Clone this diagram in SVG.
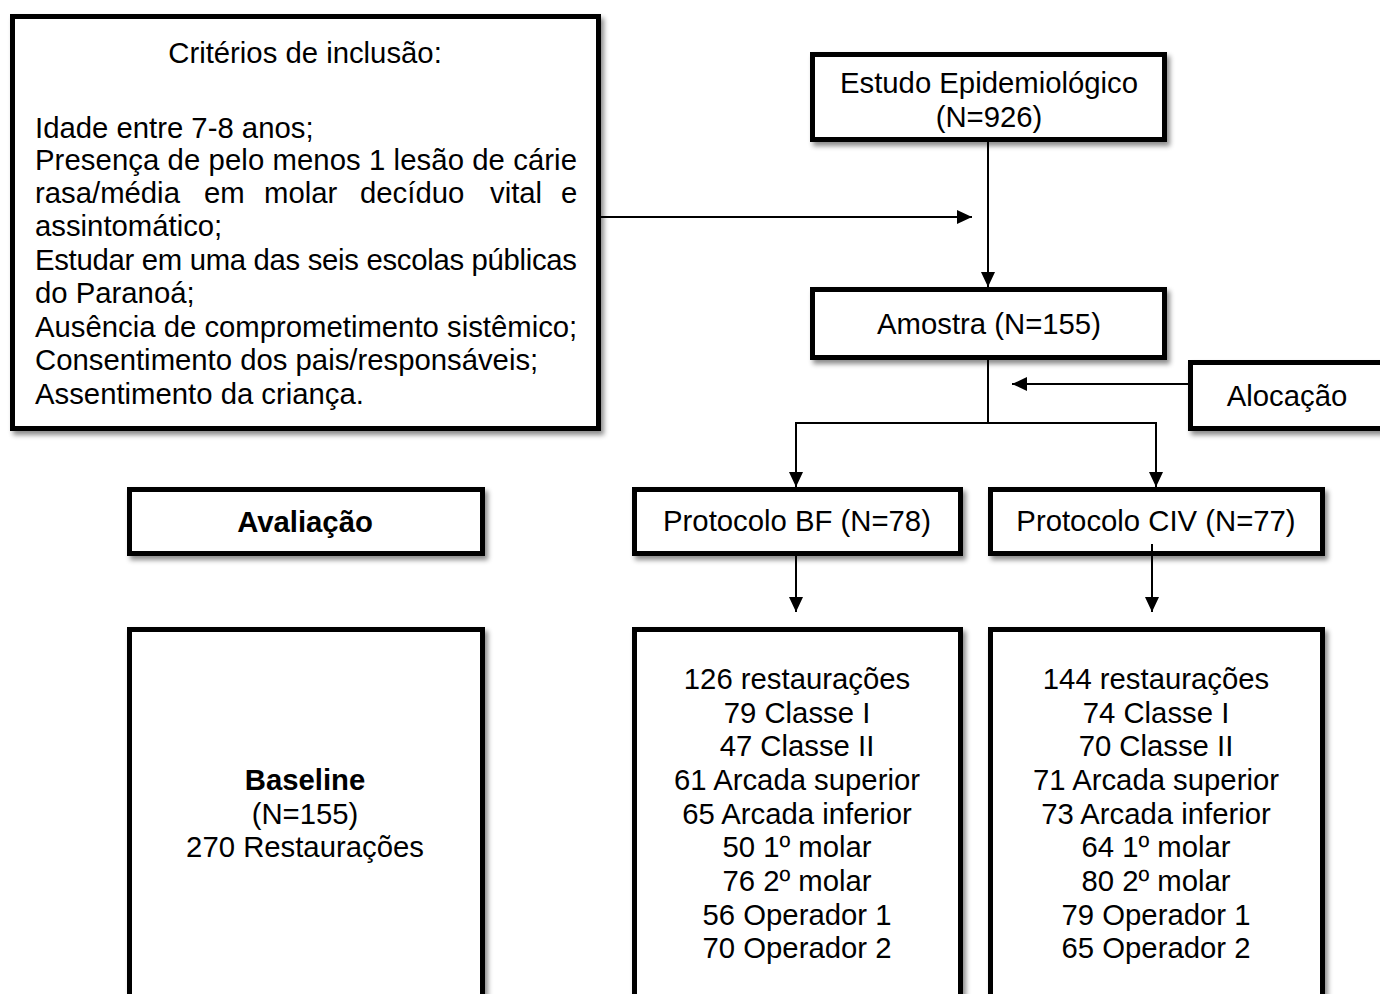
<svg xmlns="http://www.w3.org/2000/svg" width="1380" height="994" viewBox="0 0 1380 994">
<defs>
<filter id="sh" x="-10%" y="-10%" width="130%" height="130%">
<feDropShadow dx="3" dy="4" stdDeviation="2.5" flood-color="#000" flood-opacity="0.45"/>
</filter>
<marker id="ah" markerUnits="userSpaceOnUse" markerWidth="16" markerHeight="14" refX="15" refY="7" orient="auto">
<path d="M0,0 L15,7 L0,14 Z" fill="#000"/>
</marker>
<style>
.box{fill:#fff;stroke:#000;stroke-width:5;filter:url(#sh)}
.t{font-family:"Liberation Sans",Arial,sans-serif;font-size:29.3px;fill:#000}
.c{text-anchor:middle}
.b{font-weight:bold}
.ln{fill:none;stroke:#000;stroke-width:2}
</style>
</defs>
<rect width="1380" height="994" fill="#fff"/>
<g id="criterios">
<rect class="box" x="12.5" y="16.5" width="586" height="412"/>
<text class="t c" x="305" y="63">Critérios de inclusão:</text>
<text class="t" x="35" y="138">Idade entre 7-8 anos;</text>
<text class="t" x="35" y="170" textLength="542" lengthAdjust="spacing">Presença de pelo menos 1 lesão de cárie</text>
<text class="t" y="203"><tspan x="35">rasa/média</tspan><tspan x="204">em</tspan><tspan x="264">molar</tspan><tspan x="360">decíduo</tspan><tspan x="490">vital</tspan><tspan x="561">e</tspan></text>
<text class="t" x="35" y="236">assintomático;</text>
<text class="t" x="35" y="270" textLength="542" lengthAdjust="spacing">Estudar em uma das seis escolas públicas</text>
<text class="t" x="35" y="303">do Paranoá;</text>
<text class="t" x="35" y="337">Ausência de comprometimento sistêmico;</text>
<text class="t" x="35" y="370">Consentimento dos pais/responsáveis;</text>
<text class="t" x="35" y="404">Assentimento da criança.</text>
</g>
<g id="estudo">
<rect class="box" x="812.5" y="54.5" width="352" height="85"/>
<text class="t c" x="989" y="93">Estudo Epidemiológico</text>
<text class="t c" x="989" y="127">(N=926)</text>
</g>
<g id="amostra">
<rect class="box" x="812.5" y="289.5" width="352" height="68"/>
<text class="t c" x="989" y="334">Amostra (N=155)</text>
</g>
<g id="alocacao">
<rect class="box" x="1190.5" y="362.5" width="200" height="66"/>
<text class="t c" x="1287" y="406">Alocação</text>
</g>
<g id="avaliacao">
<rect class="box" x="129.5" y="489.5" width="353" height="64"/>
<text class="t c b" x="305" y="532">Avaliação</text>
</g>
<g id="protocolo-bf">
<rect class="box" x="634.5" y="489.5" width="326" height="64"/>
<text class="t c" x="797" y="531">Protocolo BF (N=78)</text>
</g>
<g id="protocolo-civ">
<rect class="box" x="990.5" y="489.5" width="332" height="64"/>
<text class="t c" x="1156" y="531">Protocolo CIV (N=77)</text>
</g>
<g id="baseline">
<rect class="box" x="129.5" y="629.5" width="353" height="400"/>
<text class="t c b" x="305" y="790">Baseline</text>
<text class="t c" x="305" y="824">(N=155)</text>
<text class="t c" x="305" y="857">270 Restaurações</text>
</g>
<g id="bf-detalhe">
<rect class="box" x="634.5" y="629.5" width="326" height="400"/>
<text class="t c" x="797" y="689">126 restaurações</text>
<text class="t c" x="797" y="723">79 Classe I</text>
<text class="t c" x="797" y="756">47 Classe II</text>
<text class="t c" x="797" y="790">61 Arcada superior</text>
<text class="t c" x="797" y="824">65 Arcada inferior</text>
<text class="t c" x="797" y="857">50 1º molar</text>
<text class="t c" x="797" y="891">76 2º molar</text>
<text class="t c" x="797" y="925">56 Operador 1</text>
<text class="t c" x="797" y="958">70 Operador 2</text>
</g>
<g id="civ-detalhe">
<rect class="box" x="990.5" y="629.5" width="332" height="400"/>
<text class="t c" x="1156" y="689">144 restaurações</text>
<text class="t c" x="1156" y="723">74 Classe I</text>
<text class="t c" x="1156" y="756">70 Classe II</text>
<text class="t c" x="1156" y="790">71 Arcada superior</text>
<text class="t c" x="1156" y="824">73 Arcada inferior</text>
<text class="t c" x="1156" y="857">64 1º molar</text>
<text class="t c" x="1156" y="891">80 2º molar</text>
<text class="t c" x="1156" y="925">79 Operador 1</text>
<text class="t c" x="1156" y="958">65 Operador 2</text>
</g>
<g id="connectors">
<line class="ln" x1="601" y1="217" x2="972" y2="217" marker-end="url(#ah)"/>
<line class="ln" x1="988" y1="142" x2="988" y2="287" marker-end="url(#ah)"/>
<line class="ln" x1="988" y1="360" x2="988" y2="424"/>
<line class="ln" x1="1188" y1="384" x2="1012" y2="384" marker-end="url(#ah)"/>
<polyline class="ln" points="796,423 1156,423"/>
<line class="ln" x1="796" y1="422" x2="796" y2="487" marker-end="url(#ah)"/>
<line class="ln" x1="1156" y1="422" x2="1156" y2="487" marker-end="url(#ah)"/>
<line class="ln" x1="796" y1="556" x2="796" y2="612" marker-end="url(#ah)"/>
<line class="ln" x1="1152" y1="544" x2="1152" y2="612" marker-end="url(#ah)"/>
</g>
</svg>
